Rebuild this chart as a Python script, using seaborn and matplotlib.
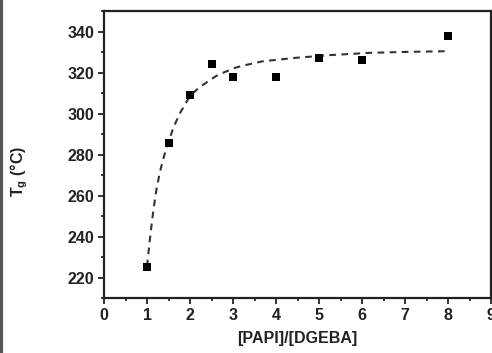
import matplotlib
matplotlib.use("Agg")
import matplotlib.pyplot as plt
import seaborn as sns
import pandas as pd
from matplotlib.ticker import MultipleLocator
from matplotlib.lines import Line2D

# measured data
ratio = [1.0, 1.5, 2.0, 2.5, 3.0, 4.0, 5.0, 6.0, 8.0]
tg = [225.3, 285.7, 309.0, 324.0, 317.6, 317.6, 327.0, 326.0, 338.0]

# fitted dashed curve
fit_x = [1.0, 1.08, 1.15, 1.22, 1.30, 1.40, 1.50, 1.61, 1.77, 1.90, 2.0, 2.2, 2.43, 2.6, 2.77,
         3.05, 3.24, 3.70, 4.48, 5.26, 6.19, 7.12, 8.0]
fit_y = [225.5, 241.0, 253.2, 263.0, 271.5, 279.5, 286.0, 293.0, 300.3, 305.0, 308.5, 312.5, 315.8,
         318.2, 319.9, 322.3, 323.4, 325.5, 327.2, 328.5, 329.6, 330.1, 330.4]

xticks = [0, 1, 2, 3, 4, 5, 6, 7, 8, 9]
yticks = [220, 240, 260, 280, 300, 320, 340]

sns.set_style("ticks")
plt.rcParams['font.family'] = ['Liberation Sans', 'DejaVu Sans']
plt.rcParams['font.weight'] = 'bold'
plt.rcParams['mathtext.fontset'] = 'custom'
plt.rcParams['mathtext.rm'] = 'Liberation Sans:bold'
plt.rcParams['mathtext.it'] = 'Liberation Sans:bold'
plt.rcParams['mathtext.default'] = 'rm'

fig = plt.figure(figsize=(4.92, 3.53), dpi=100)
ax = fig.add_axes([0.2114, 0.1558, 0.998 - 0.2114, 0.9688 - 0.1558])

pts = pd.DataFrame({"x": ratio, "y": tg})
fit = pd.DataFrame({"x": fit_x, "y": fit_y})

sns.lineplot(data=fit, x="x", y="y", ax=ax, color="#333333", linewidth=1.5,
             linestyle=(0, (3.2, 2.6)), sort=False)
sns.scatterplot(data=pts, x="x", y="y", ax=ax, marker="s", s=26, color="black",
                edgecolor="black", linewidth=0, zorder=5)

ax.set_xlim(0, 9)
ax.set_ylim(210, 350)
ax.set_xticks(xticks)
ax.set_yticks(yticks)
ax.xaxis.set_minor_locator(MultipleLocator(0.5))
ax.yaxis.set_minor_locator(MultipleLocator(10))
ax.tick_params(axis='both', which='major', direction='out', length=4, width=1.3,
               labelsize=11.5, colors='#222222', pad=3)
ax.tick_params(axis='both', which='minor', direction='out', length=2.5, width=1.3)
for lab in ax.get_xticklabels() + ax.get_yticklabels():
    lab.set_fontweight('bold')

for sp in ax.spines.values():
    sp.set_visible(True)
    sp.set_linewidth(1.6)
    sp.set_color('#222222')

ax.set_xlabel("[PAPI]/[DGEBA]", fontsize=11.5, fontweight='bold', labelpad=6, color='#222222')
ax.set_ylabel("T$_{g}$ (°C)", fontsize=11.5, fontweight='bold', color='#222222')
ax.yaxis.set_label_coords(-0.19, 0.44)

# scanned left edge band
fig.add_artist(Line2D([0.003, 0.003], [0, 1], transform=fig.transFigure, color='#555555', linewidth=3))

fig.savefig("out.png", dpi=100)
